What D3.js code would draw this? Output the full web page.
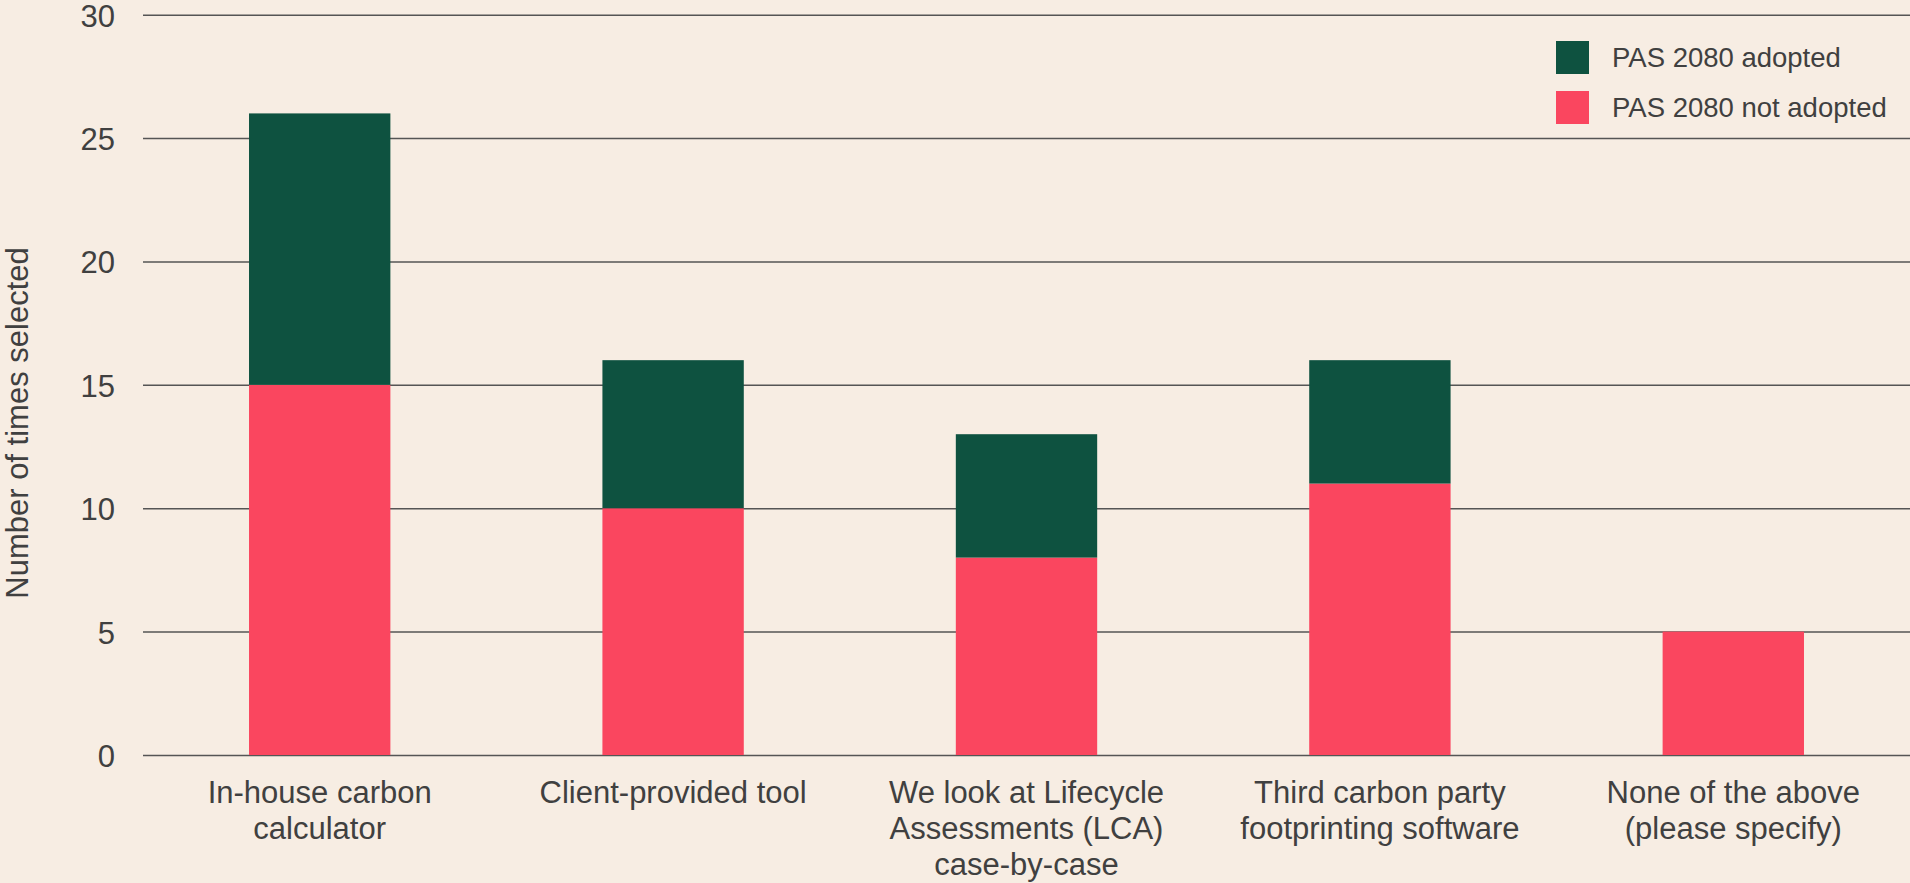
<!DOCTYPE html>
<html>
<head>
<meta charset="utf-8">
<script src="https://cdn.jsdelivr.net/npm/d3@7"></script>
<style>
	html, body { margin: 0; padding: 0; background: #f7ede3; }
	svg { display: block; }
	text { font-family: "Liberation Sans", Arial, sans-serif; fill: #404040; }
</style>
</head>
<body>
<div class="Chart"></div>
<script>
// chart data
var categories = [
	["In-house carbon", "calculator"],
	["Client-provided tool"],
	["We look at Lifecycle", "Assessments (LCA)", "case-by-case"],
	["Third carbon party", "footprinting software"],
	["None of the above", "(please specify)"]
];
var notAdopted = [15, 10, 8, 11, 5];
var adopted = [11, 6, 5, 5, 0];
var seriesNames = ["PAS 2080 adopted", "PAS 2080 not adopted"];
var yTicks = [0, 5, 10, 15, 20, 25, 30];

var width = 1910, height = 883;
var colors = { adopted: "#0e5240", notAdopted: "#fa465f" };

var svg = d3.select('.Chart').append('svg')
	.attr('width', width)
	.attr('height', height)
	.attr('viewBox', '0 0 ' + width + ' ' + height);

var x = d3.scaleBand()
	.domain(d3.range(categories.length))
	.range([143, width])
	.paddingInner(0.6)
	.paddingOuter(0.3);

var y = d3.scaleLinear()
	.domain([0, 30])
	.range([755, 14.7]);

//Grid lines and tick labels
var yAxis = d3.axisLeft(y)
	.tickValues(yTicks)
	.tickSize(-(width - 143))
	.tickPadding(28);

var yg = svg.append('g')
	.attr('transform', 'translate(143,0)')
	.call(yAxis);
yg.select('.domain').remove();
yg.selectAll('.tick line')
	.attr('stroke', '#555')
	.attr('stroke-width', 1.5);
yg.selectAll('.tick text')
	.style('font-size', '31px')
	.attr('dy', '.37em')
	.attr('fill', '#404040');

//Stacked bars
var rows = categories.map(function(c, i){
	return { i: i, notAdopted: notAdopted[i], adopted: adopted[i] };
});
var stack = d3.stack().keys(["notAdopted", "adopted"]);
var layers = stack(rows);

svg.selectAll('.layer')
	.data(layers)
	.enter().append('g')
	.attr('class', 'layer')
	.attr('fill', function(d) { return colors[d.key]; })
	.selectAll('rect')
	.data(function(d) { return d.filter(function(p) { return p[1] > p[0]; }); })
	.enter().append('rect')
	.attr('x', function(d) { return x(d.data.i); })
	.attr('y', function(d) { return y(d[1]); })
	.attr('width', x.bandwidth())
	.attr('height', function(d) { return y(d[0]) - y(d[1]); });

//Category labels
var cat = svg.selectAll('.cat')
	.data(categories)
	.enter().append('text')
	.attr('class', 'cat')
	.attr('text-anchor', 'middle')
	.style('font-size', '31px')
	.attr('x', function(d, i) { return x(i) + x.bandwidth() / 2; })
	.attr('y', 803);
cat.selectAll('tspan')
	.data(function(d) { return d; })
	.enter().append('tspan')
	.attr('x', function() { return d3.select(this.parentNode).attr('x'); })
	.attr('dy', function(d, j) { return j === 0 ? 0 : 36; })
	.text(function(d) { return d; });

//Y axis title
svg.append('text')
	.attr('transform', 'translate(28,423) rotate(-90)')
	.attr('text-anchor', 'middle')
	.style('font-size', '31px')
	.text('Number of times selected');

//Legend
var legendColors = [colors.adopted, colors.notAdopted];
var legend = svg.selectAll('.legend')
	.data(seriesNames)
	.enter().append('g')
	.attr('class', 'legend')
	.attr('transform', function(d, i) { return 'translate(1556,' + (41 + i * 50) + ')'; });
legend.append('rect')
	.attr('width', 33)
	.attr('height', 33)
	.attr('fill', function(d, i) { return legendColors[i]; });
legend.append('text')
	.attr('x', 56)
	.attr('y', 16.5)
	.attr('dy', '.35em')
	.style('font-size', '27.5px')
	.text(function(d) { return d; });
</script>
</body>
</html>
